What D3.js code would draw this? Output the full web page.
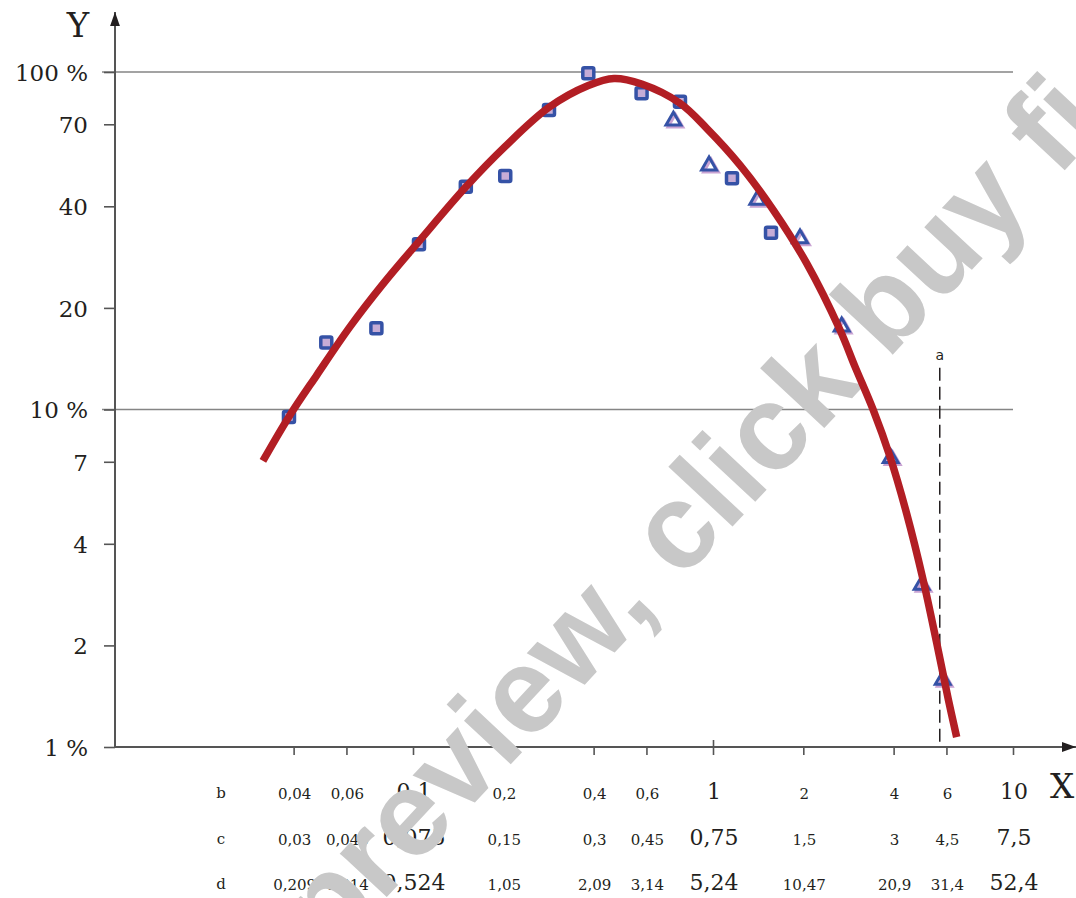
<!DOCTYPE html>
<html>
<head>
<meta charset="utf-8">
<script src="https://cdn.jsdelivr.net/npm/d3@7"></script>
<style>
  html, body { margin: 0; padding: 0; background: #fff; }
  svg { display: block; }
  .serif { font-family: "DejaVu Serif", "Liberation Serif", serif; fill: #231f20; }
</style>
</head>
<body>
<div id="chart"></div>
<script>
// x axis rows (b, c, d) - same positions, three scales
const tickX = [0.04, 0.06, 0.1, 0.2, 0.4, 0.6, 1, 2, 4, 6, 10];
const rowB = ["0,04", "0,06", "0,1", "0,2", "0,4", "0,6", "1", "2", "4", "6", "10"];
const rowC = ["0,03", "0,045", "0,075", "0,15", "0,3", "0,45", "0,75", "1,5", "3", "4,5", "7,5"];
const rowD = ["0,209", "0,314", "0,524", "1,05", "2,09", "3,14", "5,24", "10,47", "20,9", "31,4", "52,4"];
const bigTicks = [0.1, 1, 10];

// y axis
const yTicks = [1, 2, 4, 7, 10, 20, 40, 70, 100];
const yGrid = [10, 100];

// measured points
const squareX = [0.0386, 0.0514, 0.0755, 0.1047, 0.150, 0.203, 0.284, 0.384, 0.578, 0.776, 1.157, 1.561];
const squareY = [9.5, 15.8, 17.4, 30.9, 45.7, 49.2, 77.2, 99.1, 86.5, 81.6, 48.4, 33.4];
const triX = [0.738, 0.970, 1.405, 1.95, 2.685, 3.91, 4.96, 5.83];
const triY = [71.7, 52.8, 41.8, 32.1, 17.6, 7.17, 3.02, 1.58];

// fitted curve
const curveX = [0.0316, 0.0386, 0.0478, 0.0617, 0.0796, 0.1047, 0.1502, 0.2026, 0.2841, 0.3841,
  0.4677, 0.5785, 0.7762, 0.9528, 1.2303, 1.5888, 2.053, 2.651, 2.974, 3.42, 3.89, 4.42, 5.02, 5.57, 6.09, 6.49];
const curveY = [7.04, 9.52, 12.65, 17.6, 23.6, 31.5, 45.7, 60.1, 78.6, 91.2,
  95.7, 92.1, 80.8, 68.1, 53.0, 39.0, 27.1, 17.2, 13.4, 9.97, 7.25, 4.92, 3.12, 2.03, 1.38, 1.07];

// limit marker "a"
const aX = 5.7;
const aTop = 13.3;

const width = 1076;
const height = 898;

const svg = d3.select("#chart")
    .append("svg")
    .attr("width", width)
    .attr("height", height)
    .attr("viewBox", [0, 0, width, height]);

const x = d3.scaleLog().domain([0.01, 10]).range([113, 1013]);
const y = d3.scaleLog().domain([1, 100]).range([747, 72]);
const axisX = 115;

// grid lines at 10 % and 100 %
svg.append("g")
    .selectAll("line")
    .data(yGrid)
    .join("line")
    .attr("x1", 102).attr("x2", x(10))
    .attr("y1", d => y(d)).attr("y2", d => y(d))
    .attr("stroke", "#858585")
    .attr("stroke-width", 1.6);

// y axis ticks + labels
const yAxis = svg.append("g")
    .attr("transform", `translate(${axisX},0)`)
    .call(d3.axisLeft(y)
        .tickValues(yTicks)
        .tickSize(11)
        .tickPadding(16)
        .tickFormat(d => (d === 1 || d === 10 || d === 100) ? d + " %" : d));
yAxis.select(".domain").remove();
yAxis.selectAll(".tick line").attr("stroke", "#555").attr("stroke-width", 1.6);
yAxis.selectAll(".tick text")
    .attr("class", "serif")
    .style("font-size", "23px")
    .attr("x", -27)
    .attr("dy", "0.36em");

// x axis ticks
const xAxis = svg.append("g")
    .attr("transform", `translate(0,${y(1)})`)
    .call(d3.axisBottom(x).tickValues(tickX).tickSize(8).tickFormat(""));
xAxis.select(".domain").remove();
xAxis.selectAll(".tick line").attr("stroke", "#555").attr("stroke-width", 1.6)
    .attr("y1", d => d === 1 ? -7 : 0);

// axis lines with arrows
const defs = svg.append("defs");
defs.append("marker")
    .attr("id", "arrow")
    .attr("viewBox", "0 0 10 10")
    .attr("refX", 10).attr("refY", 5)
    .attr("markerWidth", 14).attr("markerHeight", 14)
    .attr("markerUnits", "userSpaceOnUse")
    .attr("orient", "auto")
    .append("path")
    .attr("d", "M0,1.5 L10,5 L0,8.5 Z")
    .attr("fill", "#231f20");

svg.append("line")
    .attr("x1", axisX).attr("x2", axisX)
    .attr("y1", y(1)).attr("y2", 12)
    .attr("stroke", "#555").attr("stroke-width", 2)
    .attr("marker-end", "url(#arrow)");
svg.append("line")
    .attr("x1", axisX).attr("x2", 1076)
    .attr("y1", y(1)).attr("y2", y(1))
    .attr("stroke", "#555").attr("stroke-width", 2)
    .attr("marker-end", "url(#arrow)");

// axis names
svg.append("text").attr("class", "serif")
    .attr("x", 78).attr("y", 37)
    .attr("text-anchor", "middle")
    .style("font-size", "34px")
    .text("Y");
svg.append("text").attr("class", "serif")
    .attr("x", 1062).attr("y", 798)
    .attr("text-anchor", "middle")
    .style("font-size", "34px")
    .text("X");

// three label rows under x axis
const rows = [
    { name: "b", labels: rowB, base: 799 },
    { name: "c", labels: rowC, base: 845 },
    { name: "d", labels: rowD, base: 890 }
];
rows.forEach(r => {
    svg.append("text").attr("class", "serif")
        .attr("x", 221).attr("y", r.base - 1)
        .attr("text-anchor", "middle")
        .style("font-size", "15px")
        .text(r.name);
    svg.append("g")
        .selectAll("text")
        .data(tickX)
        .join("text")
        .attr("class", "serif")
        .attr("x", d => x(d) + 1)
        .attr("y", r.base)
        .attr("text-anchor", "middle")
        .style("font-size", d => bigTicks.includes(d) ? "22px" : "15px")
        .text((d, i) => r.labels[i]);
});

// dashed limit line "a"
svg.append("line")
    .attr("x1", x(aX)).attr("x2", x(aX))
    .attr("y1", y(aTop)).attr("y2", y(1))
    .attr("stroke", "#231f20")
    .attr("stroke-width", 1.5)
    .attr("stroke-dasharray", "13,6");
svg.append("text")
    .attr("x", x(aX)).attr("y", y(aTop) - 8)
    .attr("text-anchor", "middle")
    .style("font-family", "'DejaVu Sans', sans-serif")
    .style("font-size", "14px")
    .attr("fill", "#231f20")
    .text("a");

// watermark
svg.append("text")
    .attr("transform", "translate(688,512) rotate(-47)")
    .attr("text-anchor", "middle")
    .attr("dy", "0.35em")
    .style("font-family", "'Liberation Sans', Arial, sans-serif")
    .style("font-weight", "bold")
    .style("font-size", "121px")
    .attr("fill", "#c8c8c8")
    .text("preview, click buy fi");

// markers
const blue = "#3552a6";
const squares = squareX.map((v, i) => [v, squareY[i]]);
const tris = triX.map((v, i) => [v, triY[i]]);
const triPath = d3.symbol().type(d3.symbolTriangle).size(95);

svg.append("g")
    .selectAll("path")
    .data(tris)
    .join("path")
    .attr("d", triPath)
    .attr("transform", d => `translate(${x(d[0]) + 2},${y(d[1]) + 2})`)
    .attr("fill", "none")
    .attr("stroke", "#c9a3d3")
    .attr("stroke-width", 3);
svg.append("g")
    .selectAll("path")
    .data(tris)
    .join("path")
    .attr("d", triPath)
    .attr("transform", d => `translate(${x(d[0])},${y(d[1])})`)
    .attr("fill", "none")
    .attr("stroke", blue)
    .attr("stroke-width", 3);

svg.append("g")
    .selectAll("rect")
    .data(squares)
    .join("rect")
    .attr("x", d => x(d[0]) - 5.5)
    .attr("y", d => y(d[1]) - 5.5)
    .attr("width", 11).attr("height", 11)
    .attr("rx", 1.5)
    .attr("fill", "#c6acd6")
    .attr("stroke", blue)
    .attr("stroke-width", 3.5);

// fitted curve
const line = d3.line()
    .x(d => x(d[0]))
    .y(d => y(d[1]))
    .curve(d3.curveCatmullRom);
svg.append("path")
    .datum(curveX.map((v, i) => [v, curveY[i]]))
    .attr("d", line)
    .attr("fill", "none")
    .attr("stroke", "#b21e24")
    .attr("stroke-width", 7.5);
</script>
</body>
</html>
